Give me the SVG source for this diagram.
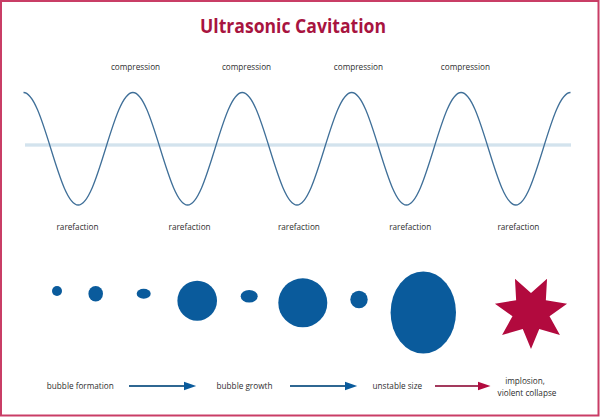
<svg xmlns="http://www.w3.org/2000/svg" width="600" height="417" viewBox="0 0 600 417">
<style>
.lbl{font-family:"Open Sans","Liberation Sans",sans-serif;font-size:8.2px;fill:#2e2e2e;text-anchor:middle}
.title{font-family:"Open Sans","Liberation Sans",sans-serif;font-size:19px;font-weight:700;fill:#a8143f;text-anchor:middle}
.bub{fill:#0a5b9c}
.wave{fill:none;stroke:#3f6f98;stroke-width:1.3}
.axis{stroke:#a3c4da;stroke-width:0.8}
.ab{stroke:#2f6792;stroke-width:2;fill:none}
.ar{stroke:#a33a5d;stroke-width:2;fill:none}
</style>
<defs>
<marker id="hb" markerUnits="userSpaceOnUse" markerWidth="14" markerHeight="10" viewBox="0 -5 14 10" refX="0.5" refY="0" orient="auto"><path d="M0,-4.3 L12.7,0 L0,4.3 z" fill="#0a5b9c"/></marker>
<marker id="hr" markerUnits="userSpaceOnUse" markerWidth="14" markerHeight="10" viewBox="0 -5 14 10" refX="0.5" refY="0" orient="auto"><path d="M0,-4.3 L12.7,0 L0,4.3 z" fill="#b20a3e"/></marker>
</defs>
<rect x="0" y="0" width="600" height="417" fill="#fff"/>
<rect x="1" y="1" width="597.5" height="414.5" fill="none" stroke="#c93d66" stroke-width="2"/>
<g id="title"><text class="title" x="293" y="32.5" textLength="186" lengthAdjust="spacingAndGlyphs">Ultrasonic Cavitation</text></g>
<g id="wave">
<line class="axis" x1="25" y1="144.1" x2="571" y2="144.1"/>
<line class="axis" x1="25" y1="145.9" x2="571" y2="145.9"/>
<path class="wave" d="M23.5,92.5 c9.9,0 18.43,27.43 27.35,56.25 c8.92,28.82 17.45,56.25 27.35,56.25 c9.9,0 18.43,-27.43 27.35,-56.25 c8.92,-28.82 17.45,-56.25 27.35,-56.25 c9.9,0 18.43,27.43 27.35,56.25 c8.92,28.82 17.45,56.25 27.35,56.25 c9.9,0 18.43,-27.43 27.35,-56.25 c8.92,-28.82 17.45,-56.25 27.35,-56.25 c9.9,0 18.43,27.43 27.35,56.25 c8.92,28.82 17.45,56.25 27.35,56.25 c9.9,0 18.43,-27.43 27.35,-56.25 c8.92,-28.82 17.45,-56.25 27.35,-56.25 c9.9,0 18.43,27.43 27.35,56.25 c8.92,28.82 17.45,56.25 27.35,56.25 c9.9,0 18.43,-27.43 27.35,-56.25 c8.92,-28.82 17.45,-56.25 27.35,-56.25 c9.9,0 18.43,27.43 27.35,56.25 c8.92,28.82 17.45,56.25 27.35,56.25 c9.9,0 18.43,-27.43 27.35,-56.25 c8.92,-28.82 17.45,-56.25 27.35,-56.25"/>
</g>
<g id="wave-labels">
<text class="lbl" x="135.5" y="69.5">compression</text>
<text class="lbl" x="246.5" y="69.5">compression</text>
<text class="lbl" x="358.4" y="69.5">compression</text>
<text class="lbl" x="465.4" y="69.5">compression</text>
<text class="lbl" x="77.5" y="230">rarefaction</text>
<text class="lbl" x="189.6" y="230">rarefaction</text>
<text class="lbl" x="298.9" y="230">rarefaction</text>
<text class="lbl" x="410.2" y="230">rarefaction</text>
<text class="lbl" x="518.4" y="230">rarefaction</text>
</g>
<g id="bubbles">
<ellipse class="bub" cx="57" cy="291" rx="5" ry="5"/>
<ellipse class="bub" cx="95.7" cy="293.7" rx="7.3" ry="7.7"/>
<ellipse class="bub" cx="143.7" cy="293.7" rx="7" ry="5"/>
<ellipse class="bub" cx="197.2" cy="300.7" rx="19.8" ry="20"/>
<ellipse class="bub" cx="249.2" cy="296.3" rx="8.5" ry="6.3"/>
<ellipse class="bub" cx="302.8" cy="302.8" rx="24.5" ry="24.5"/>
<ellipse class="bub" cx="359" cy="299.5" rx="8.7" ry="8.8"/>
<ellipse class="bub" cx="423.3" cy="312.5" rx="32.7" ry="41"/>
</g>
<g id="implosion-star">
<polygon fill="#b20a3e" points="531,349 522.76,329.12 502.07,335.07 512.48,316.23 494.93,303.77 516.15,300.15 514.95,278.66 531,293 547.05,278.66 545.85,300.15 567.07,303.77 549.52,316.23 559.93,335.07 539.24,329.12"/>
</g>
<g id="stage-formation"><text class="lbl" x="80.3" y="388.7">bubble formation</text></g>
<g id="stage-growth"><text class="lbl" x="244.5" y="388.7">bubble growth</text></g>
<g id="stage-unstable"><text class="lbl" x="397.3" y="388.7">unstable size</text></g>
<g id="stage-implosion"><text class="lbl" x="525.5" y="384"><tspan x="525" y="384">implosion,</tspan><tspan x="527" y="396">violent collapse</tspan></text></g>
<g id="connectors">
<line class="ab" x1="129" y1="386" x2="184" y2="386" marker-end="url(#hb)"/>
<line class="ab" x1="290" y1="386" x2="345" y2="386" marker-end="url(#hb)"/>
<line class="ar" x1="435" y1="386" x2="478.3" y2="386" marker-end="url(#hr)"/>
</g>
</svg>
